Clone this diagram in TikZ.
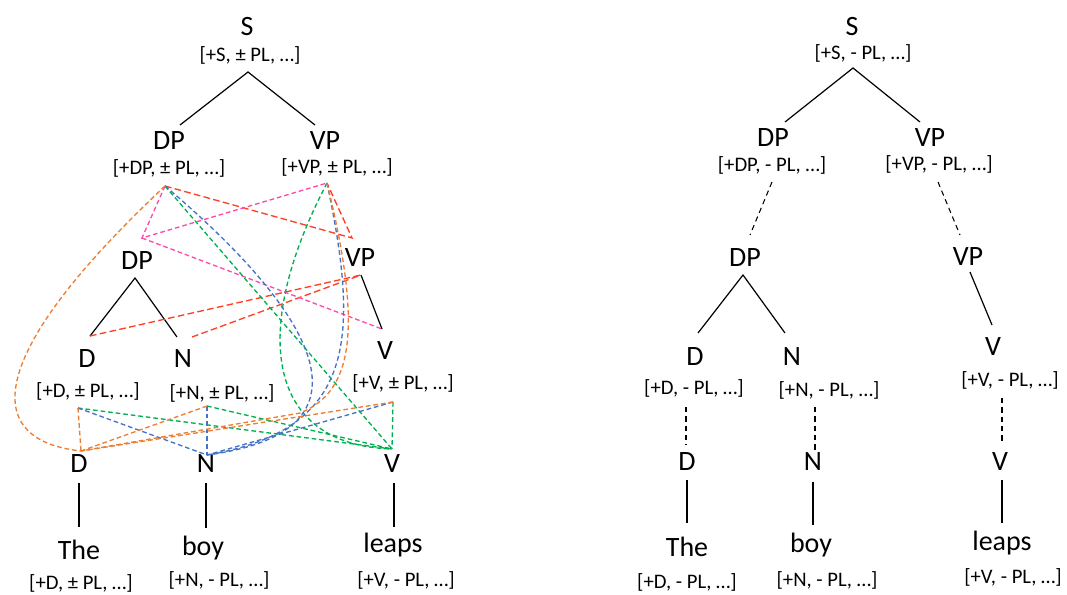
\documentclass[tikz,border=0pt]{standalone}
\usepackage{fontspec}
\setmainfont{Carlito}
\usetikzlibrary{arrows.meta}
\definecolor{agrOrange}{RGB}{237,125,49}
\definecolor{agrBlue}{RGB}{68,114,196}
\definecolor{agrGreen}{RGB}{0,176,80}
\definecolor{agrRed}{RGB}{255,62,36}
\definecolor{agrPink}{RGB}{255,74,168}
\tikzset{
  cat/.style={font=\fontsize{21}{25}\selectfont, inner sep=0pt},
  feat/.style={font=\fontsize{15.5}{18}\selectfont, inner sep=0pt},
  branch/.style={line width=0.9pt},
  copyline/.style={line width=0.8pt, dash pattern=on 4pt off 3pt},
  agree/.style={line width=1pt, dash pattern=on 3.5pt off 2.2pt},
  agreelong/.style={line width=1pt, dash pattern=on 5pt off 2.5pt}
}

\begin{document}
\begin{tikzpicture}[x=0.75pt, y=-0.75pt, line cap=butt]
  \useasboundingbox (0,0) rectangle (1067,594);

  % ---------- left tree: features still open ----------
  \node[cat]  (lS)    at (247,27)  {S};
  \node[feat] (lSf)   at (250,55)  {[+S, ± PL, …]};
  \node[cat]  (lDP)   at (169,141) {DP};
  \node[feat] (lDPf)  at (169,168) {[+DP, ± PL, …]};
  \node[cat]  (lVP)   at (325,141) {VP};
  \node[feat] (lVPf)  at (337,167) {[+VP, ± PL, …]};
  \node[cat]  (lDPb)  at (137,261) {DP};
  \node[cat]  (lVPb)  at (360,258) {VP};
  \node[cat]  (lD)    at (87,359)  {D};
  \node[cat]  (lN)    at (183,359) {N};
  \node[cat]  (lV)    at (385,351) {V};
  \node[feat] (lDf)   at (88,391)  {[+D, ± PL, …]};
  \node[feat] (lNf)   at (222,393) {[+N, ± PL, …]};
  \node[feat] (lVf)   at (403,383) {[+V, ± PL, …]};
  \node[cat]  (lDlex) at (79,464)  {D};
  \node[cat]  (lNlex) at (206,464) {N};
  \node[cat]  (lVlex) at (392,464) {V};
  \node[cat]  (lThe)  at (79,550)  {The};
  \node[cat]  (lBoy)  at (203,548) {boy};
  \node[cat]  (lLeaps) at (393,545) {leaps};
  \node[feat] (lThef) at (81,583)  {[+D, ± PL, …]};
  \node[feat] (lBoyf) at (219,580) {[+N, - PL, …]};
  \node[feat] (lLeapsf) at (406,580) {[+V, - PL, …]};

  % attachment points
  \coordinate (lS-b)    at (248,72);
  \coordinate (lDP-t)   at (180,125);
  \coordinate (lVP-t)   at (315,125);
  \coordinate (lDPf-b)  at (165,186);
  \coordinate (lVPf-b)  at (327,183);
  \coordinate (lDPb-l)  at (142,238);
  \coordinate (lVPb-r)  at (352,238);
  \coordinate (lDPb-b)  at (135,278);
  \coordinate (lVPb-b)  at (361,275);
  \coordinate (lD-t)    at (90,336);
  \coordinate (lN-t)    at (177,337);
  \coordinate (lN-r)    at (192,337);
  \coordinate (lV-t)    at (382,329);
  \coordinate (lDf-b)   at (78,408);
  \coordinate (lNf-b)   at (207,406);
  \coordinate (lVf-b)   at (393,402);
  \coordinate (lDlex-t) at (81,451);
  \coordinate (lNlex-t) at (207,455);
  \coordinate (lVlex-t) at (392,449);

  \draw[branch] (lDP-t) -- (lS-b) -- (lVP-t);
  \draw[branch] (lD-t) -- (lDPb-b) -- (lN-t);
  \draw[branch] (lVPb-b) -- (lV-t);
  \draw[branch] (lDlex.south) ++(0,10) coordinate (lDlex-b) -- (lDlex-b |- 0,527) coordinate (lThe-t);
  \draw[branch] (lNlex.south) ++(0,10) coordinate (lNlex-b) -- (lNlex-b |- 0,528) coordinate (lBoy-t);
  \draw[branch] (394,483) coordinate (lVlex-b) -- (394,527) coordinate (lLeaps-t);

  % red and pink: phrase level
  \draw[agreelong, agrRed] (lDPf-b) -- (lVPb-r) -- (lVPf-b);
  \draw[agreelong, agrRed] (lD-t) -- (lVPb-b);
  \draw[agreelong, agrRed] (lN-r) -- (lVPb-b);
  \draw[agree, agrPink] (lDPf-b) -- (lDPb-l) -- (lVPf-b);
  \draw[agree, agrPink] (lDPb-l) -- (lV-t);

  % green: everything down to V
  \draw[agree, agrGreen] (lDPf-b) -- (lVlex-t);
  \draw[agree, agrGreen] (lVPf-b) .. controls (250,330) and (265,445) .. (lVlex-t);
  \draw[agree, agrGreen] (lDf-b) -- (lVlex-t);
  \draw[agree, agrGreen] (lNf-b) -- (lVlex-t);
  \draw[agree, agrGreen] (lVf-b) -- (lVlex-t);

  % blue: everything down to N
  \draw[agree, agrBlue] (lDPf-b) .. controls (300,300) and (395,430) .. (lNlex-t);
  \draw[agree, agrBlue] (lVPf-b) .. controls (360,340) and (355,430) .. (lNlex-t);
  \draw[agree, agrBlue] (lDf-b) -- (lNlex-t);
  \draw[agree, agrBlue] (lNf-b) -- (lNlex-t);
  \draw[agree, agrBlue] (lVf-b) -- (lNlex-t);

  % orange: everything down to D
  \draw[agree, agrOrange] (lDPf-b) .. controls (-15,355) and (-20,440) .. (lDlex-t);
  \draw[agree, agrOrange] (lVPf-b) .. controls (363,330) and (353,392) .. (300,413) -- (lDlex-t);
  \draw[agree, agrOrange] (lDf-b) -- (lDlex-t);
  \draw[agree, agrOrange] (lNf-b) -- (lDlex-t);
  \draw[agree, agrOrange] (lVf-b) -- (lDlex-t);

  % ---------- right tree: features valued ----------
  \node[cat]  (rS)    at (852,27)  {S};
  \node[feat] (rSf)   at (863,53)  {[+S, - PL, …]};
  \node[cat]  (rDP)   at (773,138) {DP};
  \node[feat] (rDPf)  at (772,165) {[+DP, - PL, …]};
  \node[cat]  (rVP)   at (930,138) {VP};
  \node[feat] (rVPf)  at (939,164) {[+VP, - PL, …]};
  \node[cat]  (rDPb)  at (745,258) {DP};
  \node[cat]  (rVPb)  at (968,257) {VP};
  \node[cat]  (rD)    at (695,357) {D};
  \node[cat]  (rN)    at (792,357) {N};
  \node[cat]  (rV)    at (993,347) {V};
  \node[feat] (rDf)   at (694,388) {[+D, - PL, …]};
  \node[feat] (rNf)   at (829,390) {[+N, - PL, …]};
  \node[feat] (rVf)   at (1010,380) {[+V, - PL, …]};
  \node[cat]  (rDlex) at (687,462) {D};
  \node[cat]  (rNlex) at (813,462) {N};
  \node[cat]  (rVlex) at (1000,462) {V};
  \node[cat]  (rThe)  at (687,547) {The};
  \node[cat]  (rBoy)  at (811,545) {boy};
  \node[cat]  (rLeaps) at (1002,543) {leaps};
  \node[feat] (rThef) at (687,582) {[+D, - PL, …]};
  \node[feat] (rBoyf) at (827,580) {[+N, - PL, …]};
  \node[feat] (rLeapsf) at (1013,577) {[+V, - PL, …]};

  \coordinate (rS-b)   at (853,68);
  \coordinate (rDP-t)  at (785,122);
  \coordinate (rVP-t)  at (920,122);
  \coordinate (rDPf-b) at (772,182);
  \coordinate (rVPf-b) at (938,182);
  \coordinate (rDPb-t) at (750,235);
  \coordinate (rVPb-t) at (960,235);
  \coordinate (rDPb-b) at (743,275);
  \coordinate (rVPb-b) at (970,272);
  \coordinate (rD-t)   at (698,333);
  \coordinate (rN-t)   at (785,333);
  \coordinate (rV-t)   at (992,325);
  \coordinate (rDf-b)  at (686,407);
  \coordinate (rNf-b)  at (815,407);
  \coordinate (rVf-b)  at (1002,398);
  \coordinate (rDlex-t) at (686,445);
  \coordinate (rNlex-t) at (815,450);
  \coordinate (rVlex-t) at (1002,442);
  \coordinate (rDlex-b) at (687,480);
  \coordinate (rNlex-b) at (813,482);
  \coordinate (rVlex-b) at (1002,480);
  \coordinate (rThe-t)  at (687,523);
  \coordinate (rBoy-t)  at (813,525);
  \coordinate (rLeaps-t) at (1002,523);

  \draw[branch] (rDP-t) -- (rS-b) -- (rVP-t);
  \draw[branch] (rD-t) -- (rDPb-b) -- (rN-t);
  \draw[branch] (rVPb-b) -- (rV-t);
  \draw[copyline] (rDPf-b) -- (rDPb-t);
  \draw[copyline] (rVPf-b) -- (rVPb-t);
  \draw[copyline] (rDf-b) -- (rDlex-t);
  \draw[copyline] (rNf-b) -- (rNlex-t);
  \draw[copyline] (rVf-b) -- (rVlex-t);
  \draw[branch] (rDlex-b) -- (rThe-t);
  \draw[branch] (rNlex-b) -- (rBoy-t);
  \draw[branch] (rVlex-b) -- (rLeaps-t);
\end{tikzpicture}
\end{document}
